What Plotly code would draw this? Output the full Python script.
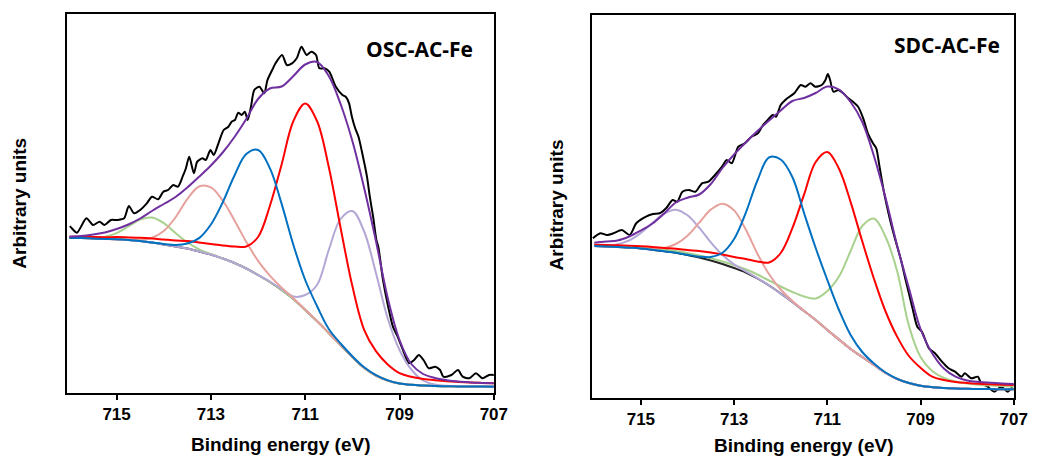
import plotly.graph_objects as go

# ---------------- shared energy grid (eV) for the fitted curves ----------------
ENERGY = [716, 715.75, 715.5, 715.25, 715, 714.75, 714.5, 714.25, 714, 713.75,
          713.5, 713.25, 713, 712.75, 712.5, 712.25, 712, 711.75, 711.5, 711.25,
          711, 710.75, 710.5, 710.25, 710, 709.75, 709.5, 709.25, 709, 708.75,
          708.5, 708.25, 708, 707.75, 707.5, 707.25, 707]

TICK_VALUES = [715, 713, 711, 709, 707]
TICK_LABELS = ["715", "713", "711", "709", "707"]

# ---------------- OSC-AC-Fe (left panel) ----------------
OSC_BACKGROUND = [155, 155, 154.5, 154, 153.7, 153, 152, 150.5, 148.5, 146.5,
                  144.5, 141.5, 138.5, 134.5, 130, 124.5, 118, 111, 103, 94,
                  83, 72, 60, 48, 36, 25, 17.5, 12.5, 9.5, 8.2,
                  7.5, 7, 6.8, 6.6, 6.5, 6.4, 6.3]
OSC_GREEN = [155, 155.1, 155, 156.1, 159.9, 166.5, 173.4, 175.5, 169.9, 160,
             150.7, 143.6, 139, 134.5, 130, 124.5, 118, 111, 103, 94,
             83, 72, 60, 48, 36, 25, 17.5, 12.5, 9.5, 8.2,
             7.5, 7, 6.8, 6.6, 6.5, 6.4, 6.3]
OSC_PINK = [155, 155, 154.5, 154, 153.7, 153.3, 153.3, 155.3, 162, 175.7,
            193.9, 206.5, 205.6, 192.5, 172.6, 151.1, 132.1, 117.4, 105.4, 94.8,
            83.2, 72, 60, 48, 36, 25, 17.5, 12.5, 9.5, 8.2,
            7.5, 7, 6.8, 6.6, 6.5, 6.4, 6.3]
OSC_BLUE = [155, 155, 154.5, 154, 153.7, 153, 152, 150.5, 148.9, 148.1,
            149.5, 154.9, 168.5, 190.5, 217.5, 238.9, 243, 224.9, 189.1, 148,
            113, 87, 64, 49.5, 36.7, 25.7, 17.8, 12.6, 9.5, 8.2,
            7.5, 7, 6.8, 6.6, 6.5, 6.4, 6.3]
OSC_RED = [156.2, 156.3, 156, 155.8, 155.9, 155.6, 155.2, 154.5, 153.5, 152.5,
           152, 150.5, 149, 147.5, 146.5, 146.5, 156, 187, 228.6, 272,
           289.5, 272, 226, 165.3, 106.9, 63.2, 41.8, 28.5, 19.9, 16.2,
           14.1, 12.8, 11.8, 11.1, 10.5, 10.1, 9.7]
OSC_LAVENDER = [155, 155, 154.5, 154, 153.7, 153, 152, 150.5, 148.5, 146.5,
                144.5, 141.5, 138.5, 134.5, 130, 124.5, 118, 111.5, 104, 96.5,
                98, 108, 143, 174, 182, 161.5, 120, 74.5, 43, 23.5,
                12.5, 8.5, 7.2, 6.9, 6.7, 6.6, 6.5]
OSC_ENVELOPE = [156.3, 157, 158.5, 160.5, 164, 168.5, 174.5, 182, 189, 196,
                205.5, 216.3, 227.5, 240.5, 256, 274, 294, 304.5, 306.5, 317,
                328.5, 331, 317, 289, 252, 205, 152, 95, 53, 29,
                19, 15, 12.8, 11.4, 10.6, 10.1, 9.7]

OSC_RAW_EV = [715.99, 715.95, 715.84, 715.64, 715.50, 715.36, 715.26, 715.12, 714.98, 714.84,
              714.74, 714.63, 714.50, 714.36, 714.25, 714.12, 714.01, 713.91, 713.80, 713.70,
              713.60, 713.53, 713.46, 713.36, 713.29, 713.18, 713.11, 713.01, 712.94, 712.84,
              712.73, 712.63, 712.56, 712.49, 712.42, 712.35, 712.28, 712.22, 712.15, 712.08,
              711.97, 711.87, 711.80, 711.70, 711.63, 711.49, 711.39, 711.28, 711.18, 711.08,
              710.97, 710.87, 710.77, 710.70, 710.59, 710.49, 710.35, 710.21, 710.14, 710.07,
              710.01, 709.94, 709.87, 709.76, 709.69, 709.63, 709.56, 709.49, 709.45, 709.35,
              709.24, 709.14, 709.04, 708.90, 708.80, 708.69, 708.59, 708.49, 708.38, 708.24,
              708.14, 708.07, 707.90, 707.76, 707.66, 707.52, 707.38, 707.24, 707.10, 707.0]
OSC_RAW_COUNTS = [167, 164.7, 160.3, 174.7, 168, 171.3, 168, 173, 173, 174.7,
                  187, 179.7, 183, 189.7, 196.3, 193.7, 201.3, 203, 208, 206.3,
                  216.3, 224.7, 236.3, 219.7, 231.3, 234.7, 233, 243, 238, 249.7,
                  263, 266.3, 271.3, 273, 280.3, 278, 281.3, 273, 286.3, 303,
                  306.3, 299.7, 313, 323, 329.7, 338, 328, 329.7, 334.7, 346.3,
                  338, 341.3, 338, 324.7, 324.7, 321.3, 306.3, 298, 296.3, 289.7,
                  276.3, 264.7, 256.3, 233, 216.3, 196.3, 176.3, 153, 146.3, 113,
                  86.3, 66.3, 56.3, 39.7, 29.7, 33, 38, 33, 24.7, 26.3,
                  23, 16.3, 18, 23, 16.3, 14.7, 19.7, 14.7, 18, 18]

# ---------------- SDC-AC-Fe (right panel) ----------------
SDC_BACKGROUND = [152, 151.5, 151, 150.3, 149.5, 148.3, 146.8, 145.3, 143, 140.5,
                  137.5, 134, 130, 125.5, 119.5, 112.5, 104.5, 96, 87, 78,
                  68, 58.5, 49, 41, 33, 25, 19, 15, 12.2, 10.8,
                  10, 9.5, 9.2, 9, 8.9, 8.8, 8.7]
SDC_LAVENDER = [152.2, 152.4, 153.8, 157.6, 165.1, 175.2, 184.5, 188.3, 182.7, 170.3,
                155.6, 142.9, 133.6, 126.7, 119.8, 112.5, 104.5, 96, 87, 78,
                68, 58.5, 49, 41, 33, 25, 19, 15, 12.2, 10.8,
                10, 9.5, 9.2, 9, 8.9, 8.8, 8.7]
SDC_PINK = [152, 151.5, 151, 150.3, 149.8, 149.3, 150, 154, 162.3, 175.3,
            188.4, 194.3, 187.6, 168.4, 144.3, 123.7, 108.5, 97.1, 87.3, 78,
            68, 58.5, 49, 41, 33, 25, 19, 15, 12.2, 10.8,
            10, 9.5, 9.2, 9, 8.9, 8.8, 8.7]
SDC_BLUE = [152, 151.5, 151, 150.3, 149.5, 148.3, 146.8, 145.3, 143.2, 141.3,
            141, 145.2, 159, 185.2, 217.5, 240.6, 238.5, 221, 185, 150,
            118, 88, 63, 46, 34.5, 25.5, 19.2, 15, 12.2, 10.8,
            10, 9.5, 9.2, 9, 8.9, 8.8, 8.7]
SDC_RED = [153.3, 153, 152.7, 152.3, 151.8, 151.1, 150.1, 149.3, 148, 147,
           145.5, 143.5, 141, 139, 136.5, 135.5, 145, 169.8, 203.3, 236,
           246, 229.2, 195.9, 156.6, 119.3, 86.5, 61.1, 42, 30.2, 21.3,
           18, 16.1, 15, 14.2, 13.7, 13.3, 13]
SDC_GREEN = [152.8, 152.4, 152, 151.4, 150.7, 149.6, 148.3, 147, 144.9, 142.6,
             139.8, 136.5, 132.8, 128.7, 123.5, 117.5, 111.5, 106, 101.5, 99.5,
             107, 121.5, 147, 172, 179.5, 161, 126.5, 72.4, 41, 27,
             20, 16.5, 14.5, 13.3, 12.5, 11.9, 11.3]
SDC_ENVELOPE = [155.3, 156.5, 157.5, 161.5, 167.5, 174.5, 184.5, 195.5, 200.3, 203.5,
                214, 230, 243.5, 255.5, 267, 277.5, 287.5, 297, 300, 305,
                311.5, 308.5, 296, 276, 242, 200, 152, 110, 69, 44.7,
                29.5, 21.3, 17.5, 16, 15.2, 14.5, 14]

SDC_RAW_EV = [716.03, 715.87, 715.73, 715.59, 715.41, 715.24, 715.10, 714.89, 714.74, 714.60,
              714.46, 714.32, 714.22, 714.11, 713.97, 713.83, 713.69, 713.55, 713.41, 713.26,
              713.16, 713.05, 712.91, 712.77, 712.63, 712.49, 712.38, 712.28, 712.17, 712.10,
              712.00, 711.86, 711.71, 711.57, 711.47, 711.36, 711.26, 711.12, 711.04, 710.99,
              710.94, 710.87, 710.76, 710.66, 710.55, 710.45, 710.34, 710.23, 710.13, 710.02,
              709.95, 709.88, 709.78, 709.67, 709.56, 709.42, 709.32, 709.18, 709.07, 708.97,
              708.82, 708.69, 708.54, 708.40, 708.26, 708.12, 708.05, 707.91, 707.77, 707.70,
              707.56, 707.42, 707.27, 707.13, 707.03]
SDC_RAW_COUNTS = [159.7, 164.7, 163, 164.7, 168, 163, 174.7, 181.3, 184, 184.7,
                  189.7, 198, 196.3, 206.3, 208, 206.3, 214.7, 216.3, 223, 231.3,
                  238, 234.7, 251.3, 254.7, 261.3, 264.7, 273, 278, 283, 281.3,
                  293, 299.7, 304.7, 313, 311.3, 314.7, 311.3, 313, 318, 324,
                  318, 306.3, 308, 304.7, 299.7, 296.3, 291.3, 279.7, 264.7, 254.7,
                  249.7, 231.3, 204.7, 181.3, 161.3, 138, 118, 91.3, 71.3, 66.3,
                  49.7, 44.7, 36.3, 29.7, 26.3, 21.3, 24.7, 19.7, 21.3, 14.7,
                  11.3, 6.3, 11.3, 6.3, 11.3]

PANELS = [
    dict(name="OSC-AC-Fe", xa="x", ya="y",
         raw=(OSC_RAW_EV, OSC_RAW_COUNTS),
         curves=[(OSC_BACKGROUND, "#262626"), (OSC_GREEN, "#a9d18e"),
                 (OSC_LAVENDER, "#b4a7d6"), (OSC_PINK, "#e6a19c"),
                 (OSC_RED, "#ff0000"), (OSC_BLUE, "#0070c0")],
         envelope=OSC_ENVELOPE),
    dict(name="SDC-AC-Fe", xa="x2", ya="y2",
         raw=(SDC_RAW_EV, SDC_RAW_COUNTS),
         curves=[(SDC_BACKGROUND, "#262626"), (SDC_GREEN, "#a9d18e"),
                 (SDC_LAVENDER, "#b4a7d6"), (SDC_PINK, "#e6a19c"),
                 (SDC_RED, "#ff0000"), (SDC_BLUE, "#0070c0")],
         envelope=SDC_ENVELOPE),
]

fig = go.Figure()
for p in PANELS:
    fig.add_trace(go.Scatter(x=p["raw"][0], y=p["raw"][1], mode="lines",
                             line=dict(color="#000000", width=2, shape="spline", smoothing=0.7),
                             xaxis=p["xa"], yaxis=p["ya"], showlegend=False, hoverinfo="skip"))
    for ys, col in p["curves"]:
        fig.add_trace(go.Scatter(x=ENERGY, y=ys, mode="lines",
                                 line=dict(color=col, width=2, shape="spline", smoothing=1),
                                 xaxis=p["xa"], yaxis=p["ya"], showlegend=False, hoverinfo="skip"))
    fig.add_trace(go.Scatter(x=ENERGY, y=p["envelope"], mode="lines",
                             line=dict(color="#7030a0", width=2, shape="spline", smoothing=1),
                             xaxis=p["xa"], yaxis=p["ya"], showlegend=False, hoverinfo="skip"))

W, H = 1045, 457
tickfont = dict(family="Liberation Sans, Arial, sans-serif", size=17, color="#000000")
xcommon = dict(range=[716.05, 706.99], tickmode="array", tickvals=TICK_VALUES,
               ticktext=["<b>%s</b>" % t for t in TICK_LABELS],
               ticks="outside", ticklen=5, tickwidth=1.5, tickcolor="#000000",
               showline=True, linecolor="#000000", linewidth=2, mirror=True,
               showgrid=False, zeroline=False, tickfont=tickfont, ticklabelstandoff=0)
ycommon = dict(showticklabels=False, ticks="", showline=True, linecolor="#000000", linewidth=2,
               mirror=True, showgrid=False, zeroline=False)

fig.update_layout(
    width=W, height=H, margin=dict(l=0, r=0, t=0, b=0),
    paper_bgcolor="white", plot_bgcolor="white", showlegend=False,
    xaxis=dict(domain=[68 / W, 501 / W], anchor="y", **xcommon),
    yaxis=dict(domain=[(H - 393) / H, (H - 14) / H], anchor="x", range=[0, 379], **ycommon),
    xaxis2=dict(domain=[600 / W, 1028 / W], anchor="y2", **xcommon),
    yaxis2=dict(domain=[(H - 398) / H, (H - 15) / H], anchor="x2", range=[0, 383], **ycommon),
)

title_font = dict(family="Liberation Sans, Arial, sans-serif", size=19, color="#000000")
label_font = dict(family="Open Sans, sans-serif", size=21, color="#000000")
annos = [
    dict(text="<b>OSC-AC-Fe</b>", x=425 / W, y=1 - 49 / H, font=label_font),
    dict(text="<b>SDC-AC-Fe</b>", x=960 / W, y=1 - 45 / H, font=label_font),
    dict(text="<b>Binding energy (eV)</b>", x=284 / W, y=1 - 444 / H, font=title_font),
    dict(text="<b>Binding energy (eV)</b>", x=814 / W, y=1 - 445 / H, font=title_font),
    dict(text="<b>Arbitrary units</b>", x=20 / W, y=1 - 203 / H, font=title_font, textangle=-90),
    dict(text="<b>Arbitrary units</b>", x=564 / W, y=1 - 205 / H, font=title_font, textangle=-90),
]
for a in annos:
    fig.add_annotation(xref="paper", yref="paper", showarrow=False,
                       xanchor="center", yanchor="middle", **a)

fig.write_html("out.html")
